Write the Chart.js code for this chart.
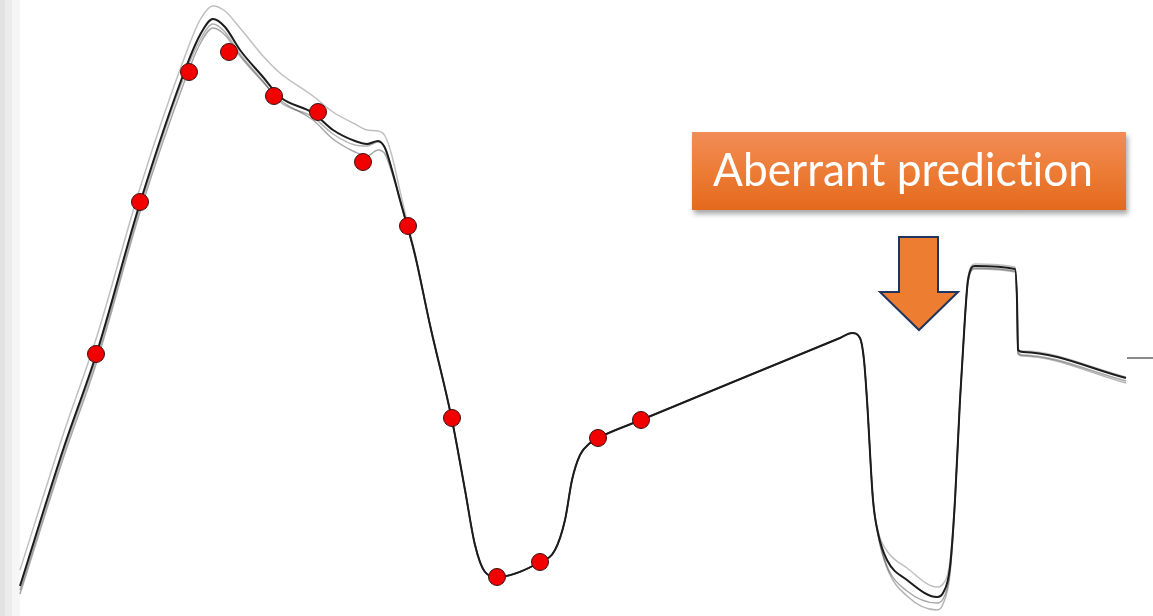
<!DOCTYPE html>
<html>
<head>
<meta charset="utf-8">
<script src="https://cdn.jsdelivr.net/npm/chart.js@4.4.1/dist/chart.umd.min.js"></script>
<style>
    html, body {
        margin: 0;
        padding: 0;
        background: #ffffff;
        overflow: hidden;
    }

    #wrap {
        position: relative;
        width: 1153px;
        height: 616px;
    }

    #bandaIzq {
        position: absolute;
        left: 0;
        top: 0;
        width: 20px;
        height: 616px;
        background: linear-gradient(to right,
            #e2e2e2 0px, #e2e2e2 5px,
            #ececec 5px, #ececec 12px,
            #f6f6f6 12px, #f6f6f6 20px);
    }

    #grafica {
        position: absolute;
        left: 0;
        top: 0;
    }

    #caja {
        position: absolute;
        left: 692px;
        top: 132px;
        width: 434px;
        height: 78px;
        background: linear-gradient(to bottom, #f18d57, #ec7a33 55%, #e36a1d);
        box-shadow: 2px 4px 5px rgba(0, 0, 0, 0.35);
    }

    #texto {
        position: absolute;
        left: 21px;
        top: 12px;
        color: #ffffff;
        font-family: Lato, "Open Sans", sans-serif;
        font-size: 46px;
        line-height: 50px;
        white-space: nowrap;
        font-variant-ligatures: none;
        transform-origin: 0 0;
    }

    #flecha {
        position: absolute;
        left: 0;
        top: 0;
    }
</style>
</head>
<body>
<div id="wrap">
    <div id="bandaIzq"></div>
    <canvas id="grafica" width="1153" height="616"></canvas>
    <div id="caja"><span id="texto">Aberrant prediction</span></div>
    <svg id="flecha" width="1153" height="616">
        <polygon points="899,237 938,237 938,292 958,292 919,330 880,292 899,292"
                 fill="#ed7d31" stroke="#1f3560" stroke-width="2"
                 stroke-linejoin="miter"/>
    </svg>
</div>

<script>
// tiempo (eje x) compartido por la prediccion y sus variantes
var tiempo = [
    2.0, 6.3, 9.7, 14.0, 18.5, 20.0, 21.3, 22.5, 24.0, 26.3,
    28.0, 31.3, 33.3, 35.5, 36.7, 37.8, 38.5, 39.2, 40.0, 40.7,
    41.5, 43.0, 45.2, 46.5, 47.5, 48.5, 49.7, 54.0, 55.5, 56.5,
    57.2, 58.0, 59.0, 59.8, 64.1, 75.0, 84.0, 85.2, 86.0, 86.4,
    86.7, 87.3, 87.8, 88.7, 90.7, 93.7, 94.3, 95.0, 95.5, 96.0,
    96.5, 96.8, 97.5, 101.5, 101.7, 101.8, 102.3, 112.6
];

// prediccion principal
var prediccion = [
    3.0, 16.6, 26.4, 41.3, 54.6, 58.1, 59.7, 58.9, 56.6, 53.9,
    51.9, 50.3, 48.6, 47.5, 47.2, 47.5, 46.8, 44.6, 41.6, 39.1,
    36.1, 29.1, 19.6, 12.6, 7.1, 4.4, 3.9, 5.4, 6.6, 9.6,
    13.6, 16.1, 17.3, 17.8, 19.6, 24.1, 27.8, 28.3, 27.8, 25.6,
    21.6, 11.6, 8.3, 5.6, 3.6, 1.9, 2.3, 4.9, 11.6, 21.6,
    29.9, 33.6, 35.0, 34.7, 31.6, 26.6, 26.4, 23.8
];

// variantes del ensamble (lineas grises)
var varianteA = [
    4.6, 18.1, 28.0, 42.8, 56.0, 59.6, 61.0, 60.5, 58.8, 56.0,
    54.3, 52.0, 50.4, 49.2, 48.6, 48.5, 48.0, 46.0, 42.5, 39.5,
    36.3, 29.1, 19.6, 12.6, 7.1, 4.4, 3.9, 5.4, 6.6, 9.6,
    13.6, 16.1, 17.3, 17.8, 19.6, 24.1, 27.8, 28.3, 27.8, 25.6,
    21.6, 11.6, 8.5, 6.5, 4.8, 2.9, 3.2, 5.5, 11.8, 21.8,
    30.0, 33.8, 35.2, 34.9, 31.6, 26.6, 26.5, 23.9
];

var varianteB = [
    2.2, 15.7, 25.5, 40.4, 53.6, 57.2, 58.8, 58.1, 56.0, 53.4,
    51.6, 49.6, 47.7, 46.4, 46.0, 46.6, 46.2, 44.3, 41.6, 39.1,
    36.1, 29.1, 19.6, 12.6, 7.1, 4.4, 3.9, 5.4, 6.6, 9.6,
    13.6, 16.1, 17.3, 17.8, 19.6, 24.1, 27.8, 28.3, 27.8, 25.6,
    21.6, 11.6, 8.2, 5.0, 2.5, 1.3, 1.7, 4.5, 11.5, 21.6,
    29.9, 33.5, 34.8, 34.5, 31.5, 26.3, 26.1, 23.5
];

var varianteC = [
    2.6, 16.2, 26.0, 40.9, 54.2, 57.6, 59.2, 58.4, 56.2, 53.5,
    51.4, 49.9, 48.2, 47.1, 47.0, 47.4, 46.8, 44.6, 41.6, 39.1,
    36.1, 29.1, 19.6, 12.6, 7.1, 4.4, 3.9, 5.4, 6.6, 9.6,
    13.6, 16.1, 17.3, 17.8, 19.6, 24.1, 27.8, 28.3, 27.8, 25.6,
    21.6, 11.6, 8.1, 4.8, 2.0, 0.6, 1.2, 4.2, 11.4, 21.6,
    29.9, 33.4, 34.7, 34.4, 31.4, 26.2, 26.0, 23.3
];

// observaciones (puntos rojos)
var obsTiempo = [9.6, 14.0, 18.9, 22.9, 27.4, 31.8, 36.3, 40.8, 45.2, 49.7, 54.0, 59.8, 64.1];
var obsValor = [26.2, 41.4, 54.4, 56.4, 52.0, 50.4, 45.4, 39.0, 19.8, 3.9, 5.4, 17.8, 19.6];

// marca corta a la derecha
var marcaTiempo = [112.7, 115.3];
var marcaValor = [25.8, 25.8];

function puntos(xs, ys) {
    return xs.map(function (x, i) {
        return { x: x, y: ys[i] };
    });
}

function serieGris(ys, color, orden) {
    return {
        data: puntos(tiempo, ys),
        borderColor: color,
        borderWidth: 1.5,
        pointRadius: 0,
        cubicInterpolationMode: 'monotone',
        fill: false,
        order: orden
    };
}

var ctx = document.getElementById('grafica');

new Chart(ctx, {
    type: 'line',
    data: {
        datasets: [
            {
                type: 'scatter',
                data: puntos(obsTiempo, obsValor),
                backgroundColor: '#f20000',
                borderColor: '#3b1010',
                borderWidth: 1,
                pointRadius: 8.5,
                order: 0
            },
            {
                data: puntos(tiempo, prediccion),
                borderColor: '#1c1c1c',
                borderWidth: 2,
                pointRadius: 0,
                cubicInterpolationMode: 'monotone',
                fill: false,
                order: 1
            },
            serieGris(varianteA, 'rgba(0, 0, 0, 0.25)', 2),
            serieGris(varianteB, 'rgba(0, 0, 0, 0.35)', 3),
            serieGris(varianteC, 'rgba(0, 0, 0, 0.3)', 4),
            {
                data: puntos(marcaTiempo, marcaValor),
                borderColor: '#8a8a8a',
                borderWidth: 2,
                pointRadius: 0,
                order: 5
            }
        ]
    },
    options: {
        responsive: false,
        animation: false,
        clip: false,
        layout: { padding: 0, autoPadding: false },
        plugins: {
            legend: { display: false },
            tooltip: { enabled: false }
        },
        scales: {
            x: { type: 'linear', min: 0, max: 115.3, display: false },
            y: { type: 'linear', min: 0, max: 61.6, display: false }
        }
    }
});

// ajustar el ancho del texto de la etiqueta
var texto = document.getElementById('texto');
var ancho = texto.getBoundingClientRect().width;
texto.style.transform = 'scaleX(' + (380 / ancho) + ')';
</script>
</body>
</html>
